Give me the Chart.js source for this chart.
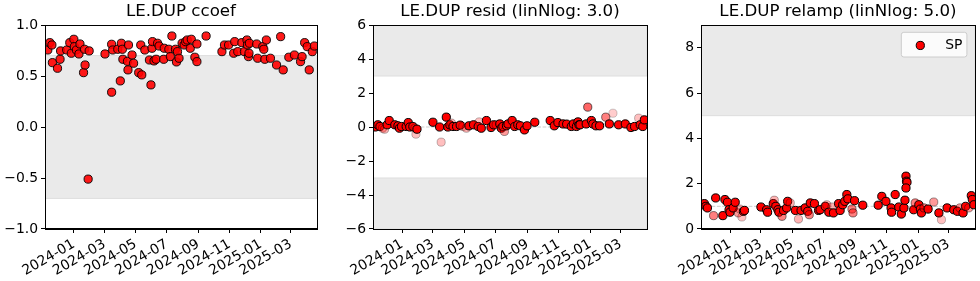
<!DOCTYPE html>
<html><head><meta charset="utf-8">
<script src="https://cdn.jsdelivr.net/npm/chart.js@4.4.1/dist/chart.umd.min.js"></script>
<style>
html,body{margin:0;padding:0;background:#fff;width:980px;height:281px;overflow:hidden}
.p{position:absolute;top:0}
canvas{display:block}
</style></head><body>
<div class="p" style="left:0px"><canvas id="c1" width="322" height="281"></canvas></div>
<div class="p" style="left:330px"><canvas id="c2" width="322" height="281"></canvas></div>
<div class="p" style="left:660px"><canvas id="c3" width="320" height="281"></canvas></div>
<script>
// x values are days since 2024-01-01
const tickDays   = [0, 60, 121, 182, 244, 305, 366, 425];
const tickLabels = ['2024-01','2024-03','2024-05','2024-07','2024-09','2024-11','2025-01','2025-03'];
const xMin = -56.5, xMax = 476;

const ccoefDay = [-51,-47,-43,-42,-32,-27,-26,-14,-8,-5,0,1,5,10,12,19,22,21,28,30,61,74,74,76,86,91,93,95,96,105,106,107,114,117,127,131,133,139,148,151,153,154,157,161,164,167,176,177,186,189,192,199,201,203,206,212,216,219,222,228,230,237,241,241,259,290,295,303,313,315,321,329,334,339,340,342,343,344,358,360,370,372,374,377,385,397,405,410,421,432,444,447,452,457,461,467,471];
const ccoefValue = [0.755,0.827,0.804,0.631,0.576,0.664,0.746,0.755,0.827,0.723,0.860,0.788,0.755,0.716,0.814,0.533,0.608,0.762,-0.511,0.746,0.716,0.341,0.811,0.755,0.762,0.452,0.821,0.762,0.664,0.644,0.560,0.804,0.706,0.625,0.533,0.804,0.511,0.755,0.657,0.413,0.772,0.837,0.648,0.664,0.821,0.794,0.664,0.772,0.762,0.690,0.892,0.762,0.638,0.739,0.674,0.821,0.804,0.837,0.853,0.772,0.860,0.684,0.641,0.814,0.892,0.739,0.804,0.804,0.723,0.837,0.739,0.827,0.739,0.853,0.804,0.690,0.723,0.821,0.814,0.674,0.788,0.762,0.664,0.853,0.674,0.608,0.886,0.560,0.684,0.706,0.641,0.690,0.827,0.788,0.560,0.739,0.794];

const residDay = [-52,-47,-43,-38,-34,-29,-25,-14,-8,-5,-1,8,12,15,21,25,27,29,60,73,76,86,89,93,96,99,106,113,118,125,130,139,148,150,154,164,173,178,183,190,193,196,199,203,206,214,219,225,230,238,243,258,288,296,303,313,320,329,333,339,342,344,346,358,361,368,371,377,384,396,403,410,421,434,445,452,460,463,468,471];
const residValue = [0.00,0.13,0.03,-0.07,-0.13,0.13,0.38,0.13,0.07,-0.07,0.03,0.03,0.26,0.00,0.03,-0.07,-0.42,-0.13,0.28,0.00,-0.89,0.58,0.00,0.13,0.23,0.03,0.03,0.11,0.03,-0.07,0.07,0.13,0.03,0.30,-0.07,0.38,-0.03,0.13,0.13,0.18,-0.07,0.03,-0.26,0.07,0.18,0.38,0.03,0.13,0.07,-0.17,0.07,0.28,0.38,0.07,0.26,0.18,0.17,0.03,0.18,0.03,0.30,0.13,0.13,0.18,1.17,0.38,0.18,0.07,0.07,0.58,0.18,0.81,0.13,0.18,-0.03,0.03,0.52,0.13,0.03,0.42];
const residAlpha = [1,1,1,0.3,0.3,1,1,1,1,1,1,1,1,1,1,0.3,0.25,1,1,1,0.25,1,1,1,0.3,1,1,1,0.3,0.3,1,1,1,0.25,1,1,1,1,0.4,1,1,1,0.4,1,1,1,1,1,1,1,1,1,1,1,1,1,1,1,1,1,1,1,1,1,0.6,1,1,1,1,0.5,1,0.2,1,1,1,1,0.25,1,1,1];

const relampDay = [-50,-47,-44,-32,-28,-14,-10,-5,-2,0,6,10,16,19,23,26,28,60,71,73,84,86,89,93,95,101,104,110,112,117,127,133,138,146,151,154,156,164,172,175,185,188,192,198,201,211,214,219,223,227,229,237,239,242,258,288,295,303,313,314,321,328,333,338,340,342,343,344,342,357,360,367,370,372,377,385,396,406,411,422,435,442,447,453,458,464,469,471,474];
const relampValue = [1.12,1.00,0.93,0.59,1.37,0.59,1.30,1.18,0.85,0.74,0.93,1.18,0.71,0.88,0.53,0.78,0.82,0.97,0.85,0.74,1.12,1.27,1.00,0.85,0.74,0.56,0.82,0.93,1.22,1.15,0.82,0.44,0.82,0.93,0.78,0.63,1.15,1.12,0.82,0.85,1.00,1.07,0.74,0.97,0.71,1.12,0.82,1.07,1.22,1.52,1.33,0.88,0.71,1.25,1.05,1.05,1.44,1.22,0.93,0.74,1.52,0.97,0.66,0.93,1.27,2.33,2.11,2.06,1.81,0.85,1.15,1.07,0.88,0.71,0.93,0.88,1.19,0.71,0.41,0.93,0.85,0.78,0.93,0.71,1.00,0.93,1.47,1.30,1.07];
const relampAlpha = [1,1,1,0.5,1,1,1,1,1,1,1,1,0.4,0.3,0.25,1,1,1,1,1,1,0.3,1,1,1,0.5,1,1,1,0.3,1,0.3,1,1,1,0.5,1,1,1,1,1,0.3,1,0.3,1,1,1,1,1,1,1,0.5,0.5,1,1,1,1,1,1,1,1,1,1,1,1,1,1,1,1,1,0.5,1,1,1,0.5,1,0.4,1,0.25,1,1,1,0.4,1,1,0.4,1,1,1];

const yTicksCcoef  = [-1, -0.5, 0, 0.5, 1];
const yTicksResid  = [-6, -4, -2, 0, 2, 4, 6];
const yTicksRelamp = [0, 2, 4, 6, 8];

const FONT = 'DejaVu Sans';
const MINUS = '\u2212';
const PR = 4.1;
Chart.defaults.font.family = FONT;
Chart.defaults.font.size = 13.9;
Chart.defaults.color = '#000';

function fmt(v, dec) {
  const s = Math.abs(v).toFixed(dec);
  return (v < 0 ? MINUS : '') + s;
}

const bandPlugin = {
  id: 'bands',
  beforeDatasetsDraw(chart, args, o) {
    const {ctx, chartArea: ca, scales: {y}} = chart;
    ctx.save();
    ctx.beginPath(); ctx.rect(ca.left, ca.top, ca.right - ca.left, ca.bottom - ca.top); ctx.clip();
    (o.bands || []).forEach(([lo, hi]) => {
      const y1 = y.getPixelForValue(hi), y2 = y.getPixelForValue(lo);
      ctx.fillStyle = 'rgb(234,234,234)';
      ctx.fillRect(ca.left, y1, ca.right - ca.left, y2 - y1);
      ctx.strokeStyle = 'rgb(222,222,222)';
      ctx.lineWidth = 1;
      ctx.strokeRect(ca.left, y1, ca.right - ca.left, y2 - y1);
    });
    if (o.refLine !== undefined) {
      const yy = y.getPixelForValue(o.refLine);
      ctx.strokeStyle = 'rgba(200,200,200,0.9)';
      ctx.lineWidth = 1;
      ctx.setLineDash([3.7, 1.6]);
      ctx.beginPath(); ctx.moveTo(ca.left, yy); ctx.lineTo(ca.right, yy); ctx.stroke();
    }
    ctx.restore();
  }
};

const framePlugin = {
  id: 'frame',
  afterDraw(chart, args, o) {
    const {ctx, chartArea: ca} = chart;
    ctx.save();
    ctx.strokeStyle = '#000'; ctx.lineWidth = 1;
    ctx.strokeRect(Math.round(ca.left) + 0.5, Math.round(ca.top) + 0.5,
                   Math.round(ca.right - ca.left), Math.round(ca.bottom - ca.top));
    if (o.legend) {
      const bw = 65.6, bh = 24.7;
      const bx = ca.right - 8 - bw, by = ca.top + 7.3;
      ctx.beginPath();
      ctx.roundRect(bx, by, bw, bh, 2.5);
      ctx.fillStyle = 'rgba(255,255,255,0.8)';
      ctx.fill();
      ctx.strokeStyle = '#cccccc';
      ctx.stroke();
      ctx.beginPath();
      ctx.arc(bx + 19, by + bh / 2 + 0.8, PR, 0, Math.PI * 2);
      ctx.fillStyle = 'rgb(255,0,0)'; ctx.fill();
      ctx.strokeStyle = '#000'; ctx.lineWidth = 1; ctx.stroke();
      ctx.fillStyle = '#000';
      ctx.font = '13.9px ' + FONT;
      ctx.textAlign = 'left'; ctx.textBaseline = 'middle';
      ctx.fillText(chart.data.datasets[0].label, bx + 44, by + bh / 2 + 0.8);
    }
    ctx.restore();
  }
};

function panel(id, o) {
  const data = o.days.map((d, i) => ({x: d, y: o.values[i]}));
  const a = i => (o.alpha ? o.alpha[i] : o.baseAlpha);
  return new Chart(document.getElementById(id), {
    type: 'scatter',
    data: {datasets: [{
      label: 'SP',
      data,
      clip: 0,
      pointRadius: PR,
      pointHoverRadius: PR,
      pointBorderWidth: 1,
      pointBackgroundColor: c => `rgba(255,0,0,${a(c.dataIndex)})`,
      pointBorderColor: c => `rgba(0,0,0,${a(c.dataIndex)})`
    }]},
    options: {
      responsive: false, animation: false, events: [],
      layout: {padding: {left: 0, right: o.padRight, top: 0, bottom: 0}},
      plugins: {
        legend: {display: false}, tooltip: {enabled: false},
        title: {display: true, text: o.title, fullSize: false, color: '#000',
                font: {size: 16.67, weight: 'normal', family: FONT}, padding: {top: 2, bottom: 3}},
        bands: {bands: o.bands, refLine: o.refLine},
        frame: {legend: !!o.legend}
      },
      scales: {
        x: {
          type: 'linear', min: xMin, max: xMax,
          afterBuildTicks: s => { s.ticks = tickDays.map(v => ({value: v})); },
          afterFit: s => { s.height = 52; s.paddingLeft = 0; s.paddingRight = 0; },
          ticks: {autoSkip: false, minRotation: 30, maxRotation: 30, padding: 3, color: '#000',
                  callback: (v, i) => tickLabels[i]},
          grid: {drawOnChartArea: false, tickLength: 4, color: '#000'},
          border: {color: '#000'}
        },
        y: {
          type: 'linear', min: o.yMin, max: o.yMax,
          afterBuildTicks: s => { s.ticks = o.yTicks.map(v => ({value: v})); },
          afterFit: s => { s.width = o.yw; s.paddingTop = 0; s.paddingBottom = 0; },
          ticks: {padding: 3, color: '#000', callback: v => fmt(v, o.dec)},
          grid: {drawOnChartArea: false, tickLength: 4, color: '#000'},
          border: {color: '#000'}
        }
      }
    },
    plugins: [bandPlugin, framePlugin]
  });
}

panel('c1', {title: 'LE.DUP ccoef', days: ccoefDay, values: ccoefValue, baseAlpha: 0.9,
  yMin: -1, yMax: 1, yTicks: yTicksCcoef, dec: 1, yw: 45, padRight: 3, bands: [[-0.7, 0.7]]});
panel('c2', {title: 'LE.DUP resid (linNlog: 3.0)', days: residDay, values: residValue, alpha: residAlpha,
  yMin: -6, yMax: 6, yTicks: yTicksResid, dec: 0, yw: 43, padRight: 4, bands: [[3, 6], [-6, -3]], refLine: 0});
panel('c3', {title: 'LE.DUP relamp (linNlog: 5.0)', days: relampDay, values: relampValue, alpha: relampAlpha,
  yMin: 0, yMax: 9, yTicks: yTicksRelamp, dec: 0, yw: 41, padRight: 5, bands: [[5, 9]], refLine: 1, legend: true});
</script>
</body></html>
